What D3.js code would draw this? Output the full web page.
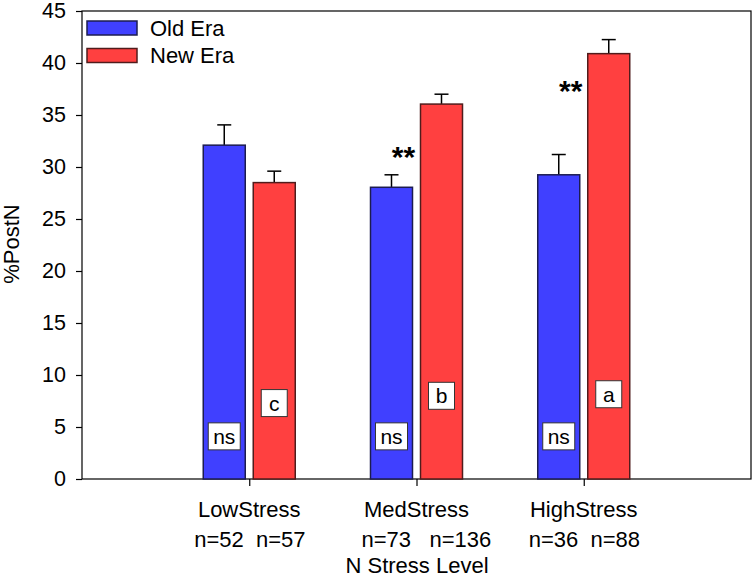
<!DOCTYPE html>
<html><head><meta charset="utf-8">
<script src="https://cdn.jsdelivr.net/npm/d3@7"></script>
<style>body{margin:0;background:#fff}svg{display:block}text{font-family:Arial,"Liberation Sans",sans-serif}</style>
</head><body><svg id="c" width="756" height="578"></svg>
<script>
const categories = ["LowStress", "MedStress", "HighStress"];
const seriesNames = ["Old Era", "New Era"];
const oldEra = [32.1, 28.05, 29.25];
const oldErr = [1.95, 1.2, 1.95];
const newEra = [28.5, 36.05, 40.9];
const newErr = [1.1, 0.95, 1.35];
const nOld = ["n=52", "n=73", "n=36"];
const nNew = ["n=57", "n=136", "n=88"];
const oldMarks = ["ns", "ns", "ns"];
const oldMarkY = [4.1, 4.1, 4.1];
const newMarks = ["c", "b", "a"];
const newMarkY = [7.3, 8.0, 8.15];
const sigLabels = ["", "**", "**"];
const sigY = [null, 31.4, 37.8];
const yTicks = [0, 5, 10, 15, 20, 25, 30, 35, 40, 45];

const colors = ["#4040ff", "#ff4040"];
const L = 82, R = 751, T = 11, B = 479;
const svg = d3.select("#c");
const x = d3.scalePoint().domain(categories).range([L, R]).padding(1);
const y = d3.scaleLinear().domain([0, 45]).range([B, T]);

const bw = 42, gap = 4;
const series = [oldEra, newEra], errs = [oldErr, newErr];

// frame
svg.append("rect").attr("x", L).attr("y", T).attr("width", R - L).attr("height", B - T)
  .attr("fill", "none").attr("stroke", "#000").attr("stroke-width", 1.2);

// bars
series.forEach((vals, s) => {
  const g = svg.append("g");
  vals.forEach((v, i) => {
    const cx = x(categories[i]);
    const x0 = s === 0 ? cx - gap - bw : cx + gap;
    const e = errs[s][i];
    const mid = x0 + bw / 2;
    g.append("line").attr("x1", mid).attr("x2", mid).attr("y1", y(v)).attr("y2", y(v + e))
      .attr("stroke", "#000").attr("stroke-width", 1.5);
    g.append("line").attr("x1", mid - 7).attr("x2", mid + 7).attr("y1", y(v + e)).attr("y2", y(v + e))
      .attr("stroke", "#000").attr("stroke-width", 1.5);
    g.append("rect").attr("x", x0).attr("y", y(v)).attr("width", bw).attr("height", y(0) - y(v))
      .attr("fill", colors[s]).attr("stroke", s === 0 ? "#1c1c50" : "#501c1c").attr("stroke-width", 1.5);
  });
});

// mark boxes
function markBox(cx, val, txt, w) {
  const cy = y(val);
  svg.append("rect").attr("x", cx - w / 2).attr("y", cy - 13.5).attr("width", w).attr("height", 27)
    .attr("fill", "#fff").attr("stroke", "#333").attr("stroke-width", 1);
  svg.append("text").attr("x", cx).attr("y", cy + 7.5).attr("text-anchor", "middle")
    .attr("font-size", 21).text(txt);
}
categories.forEach((c, i) => {
  const cx = x(c);
  markBox(cx - gap - bw / 2, oldMarkY[i], oldMarks[i], 32);
  markBox(cx + gap + bw / 2, newMarkY[i], newMarks[i], 26);
  if (sigLabels[i]) {
    svg.append("text").attr("x", cx - 13).attr("y", y(sigY[i]) + 15).attr("text-anchor", "middle")
      .attr("font-size", 30).attr("font-weight", "bold").text(sigLabels[i]);
  }
});

// y axis
const ya = svg.append("g").attr("transform", `translate(${L},0)`)
  .call(d3.axisLeft(y).tickValues(yTicks).tickSize(6).tickPadding(10));
ya.select(".domain").remove();
ya.selectAll("line").attr("stroke", "#000").attr("stroke-width", 1.2);
ya.selectAll("text").attr("font-size", 21.5).attr("fill", "#000").attr("font-family", "Arial, 'Liberation Sans', sans-serif");

// x axis
const xa = svg.append("g").attr("transform", `translate(0,${B})`)
  .call(d3.axisBottom(x).tickSize(7).tickFormat(""));
xa.select(".domain").remove();
xa.selectAll("line").attr("stroke", "#000").attr("stroke-width", 1.2);

categories.forEach((c, i) => {
  const cx = x(c);
  svg.append("text").attr("x", cx).attr("y", 517).attr("text-anchor", "middle").attr("font-size", 22).text(c);
  svg.append("text").attr("x", cx - 55).attr("y", 547).attr("font-size", 22)
    .style("white-space", "pre").text(nOld[i] + (nNew[i].length > 4 ? "   " : "  ") + nNew[i]);
});

svg.append("text").attr("x", 417).attr("y", 573).attr("text-anchor", "middle").attr("font-size", 22).text("N Stress Level");
svg.append("text").attr("transform", "translate(19,244) rotate(-90)").attr("text-anchor", "middle")
  .attr("font-size", 22).text("%PostN");

// legend
seriesNames.forEach((n, i) => {
  svg.append("rect").attr("x", 87).attr("y", 21 + i * 27.5).attr("width", 50).attr("height", 14)
    .attr("fill", colors[i]).attr("stroke", i === 0 ? "#1c1c50" : "#501c1c").attr("stroke-width", 1.5);
  svg.append("text").attr("x", 150).attr("y", 35.5 + i * 27.5).attr("font-size", 22).text(n);
});
</script></body></html>
